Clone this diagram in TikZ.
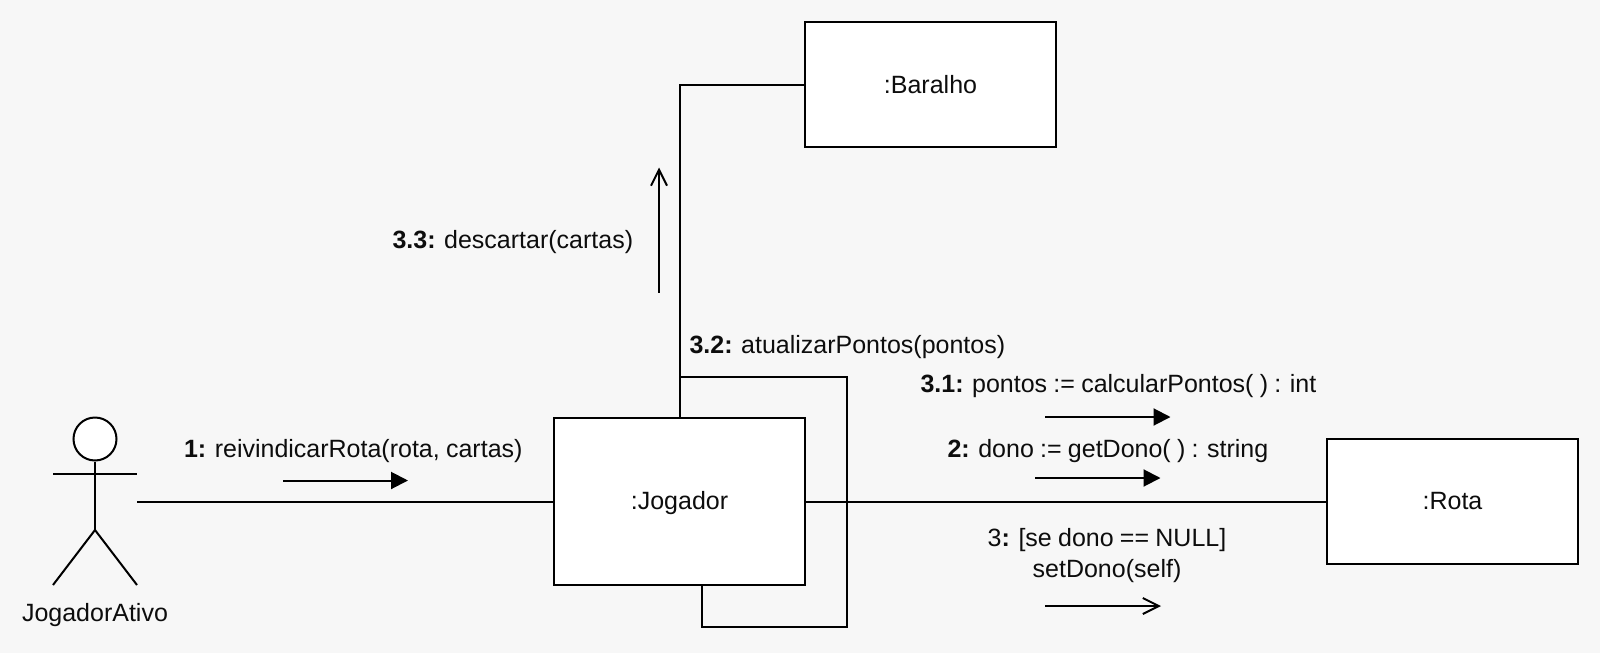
\documentclass[tikz,border=0pt]{standalone}
\usepackage{fontspec}
\setmainfont[WordSpace=0.9]{Liberation Sans}
\usetikzlibrary{calc}
\usetikzlibrary{positioning}
\usetikzlibrary{arrows.meta}
\definecolor{pagecolor}{HTML}{F7F7F7}
\newcommand*\unscopedstick{%
    \draw (actor-head.south) -- (95,530);% body
    \draw (53,474) -- (137,474);% arms
    \draw (53,585) -- (95,530) -- (137,585)% legs
}
\begin{document}
\begin{tikzpicture}
    [%
        x=0.5pt,%
        y=-0.5pt,%
        line width=1pt,%
        every node/.style={%
            font=\fontsize{12.5pt}{15.5pt}\selectfont,%
            text=black!95%
        },%
        object box/.style={%
            draw,%
            fill=white,%
            inner sep=0pt,%
            text height=8pt,%
            text depth=0pt,%
            minimum width=125.5pt,%
            minimum height=#1%
        },%
        actor head/.style={%
            draw,%
            circle,%
            fill=white,%
            inner sep=0pt,%
            minimum size=21.5pt%
        },%
        message/.style={%
            inner sep=0pt,%
            anchor=west%
        },%
        filled flow/.style={%
            -{Triangle[length=8.5pt,width=8.5pt]}%
        },%
        open flow/.style={%
            -{Straight Barb[length=8pt,width=8pt]}%
        }%
    ]%
%
    \fill[pagecolor] (0,0) rectangle (1600,653);
    \useasboundingbox (0,0) rectangle (1600,653);
%
    \node[object box=62.75pt,text height=8.5pt] (baralho) at (930.5,84.5) {:Baralho};
    \node[object box=83.5pt] (jogador) at (679.5,501.5) {:Jogador};
    \node[object box=62.5pt] (rota) at (1452.5,501.5) {:Rota};
%
    \node[actor head] (actor-head) at (95,439) {};
    \unscopedstick;
    \coordinate (actor-east) at (137,501.5);
    \node[inner sep=0pt] (actor-name) at (95,615.5) {JogadorAtivo};
%
    \draw (actor-east) -- (actor-east -| jogador.west);
    \draw (jogador.east |- rota.west) -- (rota.west);
    \draw (jogador.north) |- (baralho.west);
%
    \coordinate (loop-start) at (679.5,377);
    \coordinate (loop-end) at (702,585);
    \draw (loop-start) -- ++(167.5,0) |- ($(loop-end)+(0,41.5)$) -- (loop-end);
%
    \node[message] (msg-1) at (183,451) {\textbf{1:} reivindicarRota(rota, cartas)};
    \node[message] (msg-2) at (946.5,451) {\textbf{2:} dono := getDono( ) : string};
    \node[message] (msg-31) at (919.5,386) {\textbf{3.1:} pontos := calcularPontos( ) : int};
    \node[message] (msg-32) at (688.5,347) {\textbf{3.2:} atualizarPontos(pontos)};
    \node[message] (msg-33) at (391.5,242) {\textbf{3.3:} descartar(cartas)};
    \node[inner sep=0pt,align=center] (msg-3) at (1107,555.5)
        {3\textbf{:} [se dono == NULL]\\setDono(self)};
%
    \foreach \n/\xa/\xb/\y/\s in {%
        1/283/408/480.5/filled flow,%
        2/1035/1160.5/478/filled flow,%
        31/1045/1170.5/417/filled flow,%
        3/1045/1161/606/open flow%
    }{%
        \coordinate (flow-\n-a) at (\xa,\y);%
        \coordinate (flow-\n-b) at (\xb,\y);%
        \draw[\s] (flow-\n-a) -- (flow-\n-b);%
    }%
%
    \coordinate (flow-33-a) at (659,292.5);
    \coordinate (flow-33-b) at (659,167.5);
    \draw[open flow] (flow-33-a) -- (flow-33-b);
\end{tikzpicture}
\end{document}
